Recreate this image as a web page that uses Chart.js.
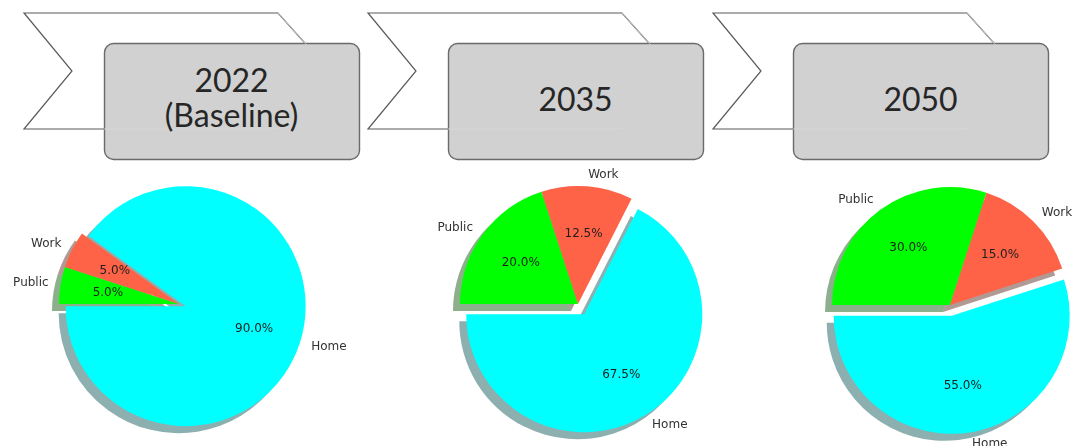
<!DOCTYPE html>
<html>
<head>
<meta charset="utf-8">
<script src="https://cdn.jsdelivr.net/npm/chart.js@4.4.1/dist/chart.umd.min.js"></script>
<style>
  html, body { margin: 0; padding: 0; background: #fff; overflow: hidden; }
  body { width: 1075px; height: 446px; position: relative; }
  #steps { position: absolute; left: 0; top: 0; }
  canvas { position: absolute; }
</style>
</head>
<body>
<svg id="steps" width="1075" height="170" xmlns="http://www.w3.org/2000/svg"></svg>
<canvas id="pie2022" width="340" height="300"></canvas>
<canvas id="pie2035" width="340" height="300"></canvas>
<canvas id="pie2050" width="340" height="300"></canvas>
<script>
// data
const stepTitles = [["2022", "(Baseline)"], ["2035"], ["2050"]];
const categories = ["Public", "Work", "Home"];
const shares2022 = [5.0, 5.0, 90.0];
const shares2035 = [20.0, 12.5, 67.5];
const shares2050 = [30.0, 15.0, 55.0];

const sliceColors = ["#00ff00", "#ff6347", "#00ffff"];

// layout of the three pies (centre, radius, explode in px per slice)
const pieLayout = [
  { id: "pie2022", values: shares2022, cx: 179, cy: 304, r: 120, explode: [0, 0, 7] },
  { id: "pie2035", values: shares2035, cx: 578, cy: 304, r: 118, explode: [0, 0, 12] },
  { id: "pie2050", values: shares2050, cx: 950, cy: 305, r: 118, explode: [0, 0, 11] }
];
const stepLefts = [24, 368, 713];

// Draw the chevrons and year boxes
function drawSteps() {
  const svg = document.getElementById("steps");
  const ns = "http://www.w3.org/2000/svg";
  const T = 13, B = 129, M = 71;
  let html = "";
  stepLefts.forEach((L, i) => {
    const pts = `${L},${T} ${L + 254},${T} ${L + 306},${M} ${L + 254},${B} ${L},${B} ${L + 48},${M}`;
    html += `<polygon points="${pts}" fill="#fff" stroke="#5a5a5a" stroke-width="1.2"/>`;
    html += `<rect x="${L + 80.5}" y="43.5" width="255" height="116" rx="9" ry="9"
               fill="#cdcdcd" fill-opacity="0.92" stroke="#6a6a6a" stroke-width="1.4"/>`;
    html += `<polyline points="${L + 254},${T} ${L + 306},${M} ${L + 254},${B} ${L + 80},${B}"
               fill="none" stroke="#e6e6e6" stroke-opacity="0.7" stroke-width="1"/>`;
    const cx = L + 80 + 127.5;
    const lines = stepTitles[i];
    const baselines = lines.length === 2 ? [92, 127] : [111];
    lines.forEach((t, k) => {
      html += `<text x="${cx}" y="${baselines[k]}" text-anchor="middle"
                 font-family="Lato, 'Open Sans', sans-serif" font-size="32" fill="#262626">${t}</text>`;
    });
  });
  svg.innerHTML = html;
}

function shadowColor(hex) {
  const n = parseInt(hex.slice(1), 16);
  const r = Math.round(((n >> 16) & 255) * 0.3);
  const g = Math.round(((n >> 8) & 255) * 0.3);
  const b = Math.round((n & 255) * 0.3);
  return `rgba(${r},${g},${b},0.45)`;
}

// matplotlib-like pie: explode, shadow, labels and autopct
const mplPie = {
  id: "mplPie",
  afterDatasetUpdate(chart, args) {
    const explode = chart.options.plugins.mplPie.explode;
    args.meta.data.forEach((arc, i) => {
      const d = explode[i] || 0;
      if (!d) return;
      const mid = (arc.startAngle + arc.endAngle) / 2;
      arc.x += Math.cos(mid) * d;
      arc.y += Math.sin(mid) * d;
    });
  },
  beforeDatasetsDraw(chart) {
    const ctx = chart.ctx;
    const arcs = chart.getDatasetMeta(0).data;
    const colors = chart.data.datasets[0].backgroundColor;
    ctx.save();
    ctx.translate(-7, 7);
    arcs.forEach((a, i) => {
      ctx.beginPath();
      ctx.moveTo(a.x, a.y);
      ctx.arc(a.x, a.y, a.outerRadius, a.startAngle, a.endAngle);
      ctx.closePath();
      ctx.fillStyle = shadowColor(colors[i]);
      ctx.fill();
    });
    ctx.restore();
  },
  afterDatasetsDraw(chart) {
    const ctx = chart.ctx;
    const arcs = chart.getDatasetMeta(0).data;
    const values = chart.data.datasets[0].data;
    const total = values.reduce((s, v) => s + v, 0);
    ctx.save();
    ctx.font = "12px 'DejaVu Sans', sans-serif";
    ctx.textBaseline = "middle";
    arcs.forEach((a, i) => {
      const mid = (a.startAngle + a.endAngle) / 2;
      const r = a.outerRadius;
      const lx = a.x + Math.cos(mid) * r * 1.1;
      const ly = a.y + Math.sin(mid) * r * 1.1;
      ctx.fillStyle = "#333";
      ctx.textAlign = Math.cos(mid) > 0 ? "left" : "right";
      ctx.fillText(chart.data.labels[i], lx, ly);
      const px = a.x + Math.cos(mid) * r * 0.6;
      const py = a.y + Math.sin(mid) * r * 0.6;
      ctx.fillStyle = "#1e1e1e";
      ctx.textAlign = "center";
      ctx.fillText((values[i] / total * 100).toFixed(1) + "%", px, py);
    });
    ctx.restore();
  }
};

function renderPie(p) {
  const canvas = document.getElementById(p.id);
  canvas.style.left = (p.cx - 170) + "px";
  canvas.style.top = (p.cy - 150) + "px";
  new Chart(canvas, {
    type: "pie",
    data: {
      labels: categories,
      datasets: [{
        data: p.values,
        backgroundColor: sliceColors,
        borderWidth: 0
      }]
    },
    options: {
      responsive: false,
      animation: false,
      rotation: -90,
      radius: p.r,
      layout: { padding: 0 },
      events: [],
      plugins: {
        legend: { display: false },
        tooltip: { enabled: false },
        mplPie: { explode: p.explode }
      }
    },
    plugins: [mplPie]
  });
}

drawSteps();
pieLayout.forEach(renderPie);
</script>
</body>
</html>
